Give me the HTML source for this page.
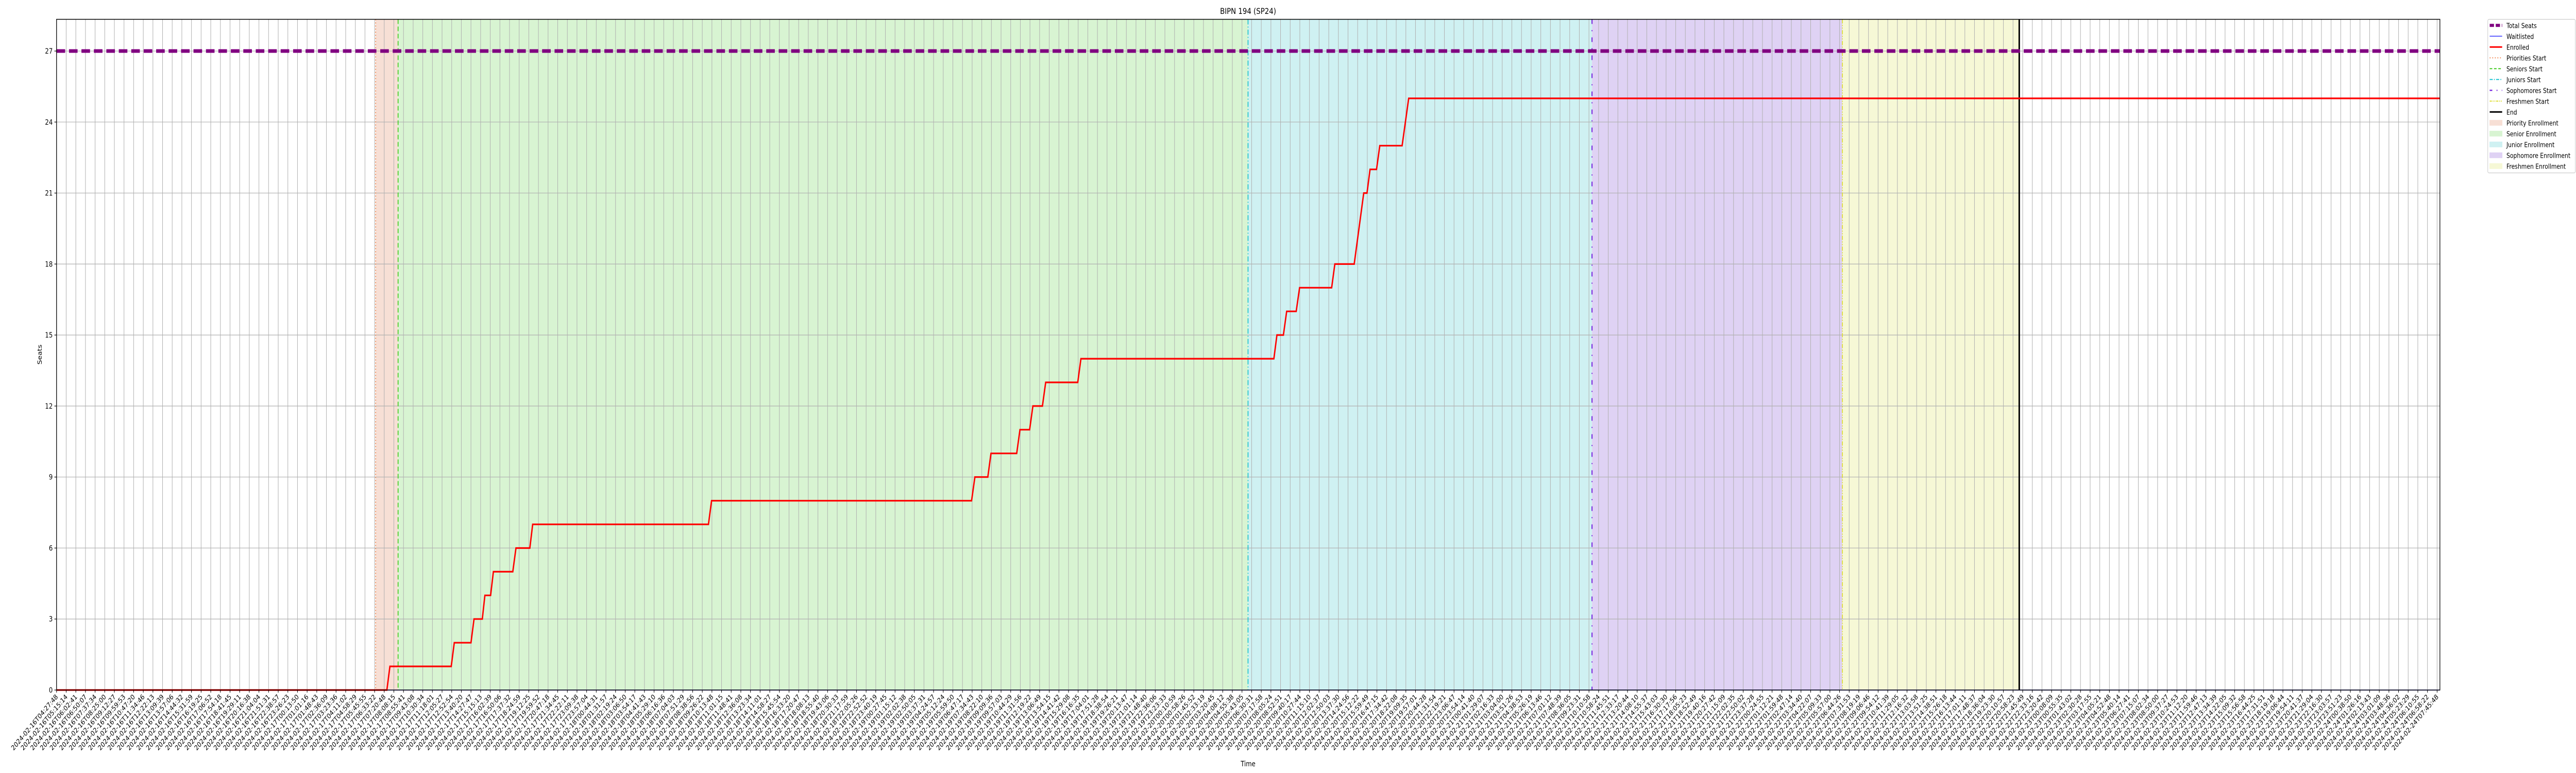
<!DOCTYPE html>
<html><head><meta charset="utf-8">
<style>
html,body{margin:0;padding:0;background:#fff;width:100%;height:100%;overflow:hidden;}
svg{display:block;position:absolute;left:0;top:0;width:100vw;height:100vh;font-family:"DejaVu Sans","Liberation Sans",sans-serif;}
</style></head>
<body>
<svg id="chart" viewBox="0 0 6000 1500" preserveAspectRatio="none" overflow="hidden" xmlns="http://www.w3.org/2000/svg">
  <rect x="0" y="0" width="6000" height="1500" fill="#fff"/>
  <g id="regions"></g>
  <g id="grid"></g>
  <g id="series"></g>
  <g id="axes"></g>
  <text x="2907" y="27" font-size="16" text-anchor="middle">BIPN 194 (SP24)</text>
  <text x="2907" y="1487" font-size="14" text-anchor="middle">Time</text>
  <text x="0" y="0" font-size="14" text-anchor="middle" transform="translate(97,688) rotate(-90)">Seats</text>
  <g id="legend"></g>
</svg>
<script>
// ---- data (x in hours since first snapshot 2024-02-16T04:27:48) ----
const enrolledHours = [0, 27.10, 27.35, 32.38, 32.63, 34.00, 34.25, 34.93, 35.14, 35.61, 35.84, 37.43, 37.69, 38.83, 39.06, 53.48, 53.74, 75.07, 75.34, 76.40, 76.66, 78.77, 79.04, 79.83, 80.10, 80.88, 81.15, 83.78, 84.04, 99.87, 100.12, 100.65, 100.92, 101.70, 101.98, 104.61, 104.87, 106.46, 106.72, 106.98, 107.24, 107.51, 107.76, 108.29, 108.56, 110.39, 110.93, 195.53];
const enrolledValues = [0, 0, 1, 1, 2, 2, 3, 3, 4, 4, 5, 5, 6, 6, 7, 7, 8, 8, 9, 9, 10, 10, 11, 11, 12, 12, 13, 13, 14, 14, 15, 15, 16, 16, 17, 17, 18, 18, 19, 20, 21, 21, 22, 22, 23, 23, 25, 25];
const waitlistHours = [0, 195.53];
const waitlistValues = [0, 0];
const totalSeats = [27];
const phaseNames = ["Priorities Start", "Seniors Start", "Juniors Start", "Sophomores Start", "Freshmen Start", "End"];
const phaseHours = [26.18, 28.02, 97.75, 125.97, 146.51, 161.02];
const regionNames = ["Priority Enrollment", "Senior Enrollment", "Junior Enrollment", "Sophomore Enrollment", "Freshmen Enrollment"];
const yTicks = [0, 3, 6, 9, 12, 15, 18, 21, 24, 27];
const tickCount = 248;
const spanHours = 195.30;

// ---- layout ----
const L = 131.7, R = 5683, T = 37.5, B = 1339;
const xMax = 195.53, yMax = 28.34;
const xs = h => L + h * (R - L) / xMax;
const ys = v => B - v * (B - T) / yMax;
const NS = "http://www.w3.org/2000/svg";
function mk(tag, attrs, parent) {
  const e = document.createElementNS(NS, tag);
  for (const k in attrs) e.setAttribute(k, attrs[k]);
  parent.appendChild(e);
  return e;
}
const gReg = document.getElementById('regions');
const gGrid = document.getElementById('grid');
const gSer = document.getElementById('series');
const gAx = document.getElementById('axes');
const gLeg = document.getElementById('legend');

const regionFills = ["#f7dfd5", "#d8f4d2", "#cff1f2", "#dfd2f4", "#f6f8d6"];
for (let i = 0; i < regionNames.length; i++) {
  const r = mk('rect', {x: xs(phaseHours[i]), y: T, width: xs(phaseHours[i+1]) - xs(phaseHours[i]), height: B - T, fill: regionFills[i]}, gReg);
  
  
}

// ticks
function pad(n){return String(n).padStart(2,'0');}
const t0 = Date.UTC(2024,1,16,4,27,48);
const tickHours = [];
const tickLabels = [];
for (let i = 0; i < tickCount; i++) {
  const h = i * spanHours / (tickCount - 1);
  tickHours.push(h);
  const d = new Date(t0 + Math.round(h * 3600) * 1000);
  tickLabels.push(d.getUTCFullYear() + '-' + pad(d.getUTCMonth()+1) + '-' + pad(d.getUTCDate()) + 'T' + pad(d.getUTCHours()) + ':' + pad(d.getUTCMinutes()) + ':' + pad(d.getUTCSeconds()));
}
for (let i = 0; i < tickHours.length; i++) {
  const x = xs(tickHours[i]);
  const gl = mk('line', {x1: x, x2: x, y1: T, y2: B, stroke: '#b0b0b0', 'stroke-width': 1.2}, gGrid);
  
  
  const tk = mk('line', {x1: x, x2: x, y1: B, y2: B + 5, stroke: '#000', 'stroke-width': 1.2}, gAx);
  
  
  const tx = mk('text', {x: 0, y: 0, 'font-size': 13.5, 'text-anchor': 'end', transform: 'translate(' + (x + 4) + ',' + (B + 14) + ') rotate(-45)'}, gAx);
  tx.textContent = tickLabels[i];
  
  
}
for (const v of yTicks) {
  const y = ys(v);
  const gl = mk('line', {x1: L, x2: R, y1: y, y2: y, stroke: '#b0b0b0', 'stroke-width': 1.2}, gGrid);
  
  
  const tk = mk('line', {x1: L - 5, x2: L, y1: y, y2: y, stroke: '#000', 'stroke-width': 1.2}, gAx);
  
  
  const tx = mk('text', {x: L - 9, y: y + 5, 'font-size': 14, 'text-anchor': 'end'}, gAx);
  tx.textContent = v;
  
  
}

// phase lines
const phaseStyles = [
  {stroke: '#f07f45', dash: '2,4', w: 2},
  {stroke: '#44cc22', dash: '9,5', w: 2},
  {stroke: '#1cc3d0', dash: '10,4,2,4', w: 2},
  {stroke: '#7a2be0', dash: '9,12,2,12', w: 2.5},
  {stroke: '#dddd30', dash: '8,3,2,3,2,3', w: 2},
  {stroke: '#000', dash: '', w: 3.5}
];
for (let i = 0; i < phaseHours.length; i++) {
  const x = xs(phaseHours[i]);
  const s = phaseStyles[i];
  const ln = mk('line', {x1: x, x2: x, y1: T, y2: B, stroke: s.stroke, 'stroke-width': s.w, 'stroke-dasharray': s.dash}, gSer);
  
  
}

// total seats
const ts = mk('line', {x1: L, x2: R, y1: ys(totalSeats[0]), y2: ys(totalSeats[0]), stroke: '#800080', 'stroke-width': 7, 'stroke-dasharray': '20,9'}, gSer);



// waitlisted
let wp = '';
for (let i = 0; i < waitlistHours.length; i++) wp += (i ? 'L' : 'M') + xs(waitlistHours[i]) + ',' + ys(waitlistValues[i]);
const wl = mk('path', {d: wp, fill: 'none', stroke: '#3333ff', 'stroke-width': 1.5}, gSer);



// enrolled
let ep = '';
for (let i = 0; i < enrolledHours.length; i++) ep += (i ? 'L' : 'M') + xs(enrolledHours[i]).toFixed(1) + ',' + ys(enrolledValues[i]).toFixed(1);
const el = mk('path', {d: ep, fill: 'none', stroke: '#ff0000', 'stroke-width': 3.2, 'stroke-linejoin': 'miter'}, gSer);



// frame
const fr = mk('rect', {x: L, y: T, width: R - L, height: B - T, fill: 'none', stroke: '#000', 'stroke-width': 1.5}, gAx);



// legend
const lb = mk('rect', {x: 5794.5, y: 37.5, width: 204, height: 298, rx: 3, fill: '#fff', stroke: '#cccccc', 'stroke-width': 1.2}, gLeg);


const legItems = [
  {t: 'Total Seats', kind: 'line', c: '#800080', w: 6, d: '10,4'},
  {t: 'Waitlisted', kind: 'line', c: '#3333ff', w: 1.5, d: ''},
  {t: 'Enrolled', kind: 'line', c: '#ff0000', w: 3, d: ''},
  {t: 'Priorities Start', kind: 'line', c: phaseStyles[0].stroke, w: 2, d: '2,4'},
  {t: 'Seniors Start', kind: 'line', c: phaseStyles[1].stroke, w: 2, d: '6,4'},
  {t: 'Juniors Start', kind: 'line', c: phaseStyles[2].stroke, w: 2, d: '7,3,2,3'},
  {t: 'Sophomores Start', kind: 'line', c: phaseStyles[3].stroke, w: 2.5, d: '6,10,2,10'},
  {t: 'Freshmen Start', kind: 'line', c: phaseStyles[4].stroke, w: 2, d: '5,2,2,2,2,2'},
  {t: 'End', kind: 'line', c: '#000', w: 3, d: ''},
  {t: 'Priority Enrollment', kind: 'patch', c: regionFills[0]},
  {t: 'Senior Enrollment', kind: 'patch', c: regionFills[1]},
  {t: 'Junior Enrollment', kind: 'patch', c: regionFills[2]},
  {t: 'Sophomore Enrollment', kind: 'patch', c: regionFills[3]},
  {t: 'Freshmen Enrollment', kind: 'patch', c: regionFills[4]}
];
for (let i = 0; i < legItems.length; i++) {
  const it = legItems[i];
  const cy = 49.3 + i * 21;
  const g = mk('g', {}, gLeg);
  
  
  if (it.kind === 'line') {
    mk('line', {x1: 5799, x2: 5828, y1: cy, y2: cy, stroke: it.c, 'stroke-width': it.w, 'stroke-dasharray': it.d}, g);
  } else {
    mk('rect', {x: 5799, y: cy - 5, width: 29, height: 10, fill: it.c, stroke: it.c}, g);
  }
  const tx = mk('text', {x: 5838, y: cy + 5, 'font-size': 13}, g);
  tx.textContent = it.t;
}
</script>
</body></html>
